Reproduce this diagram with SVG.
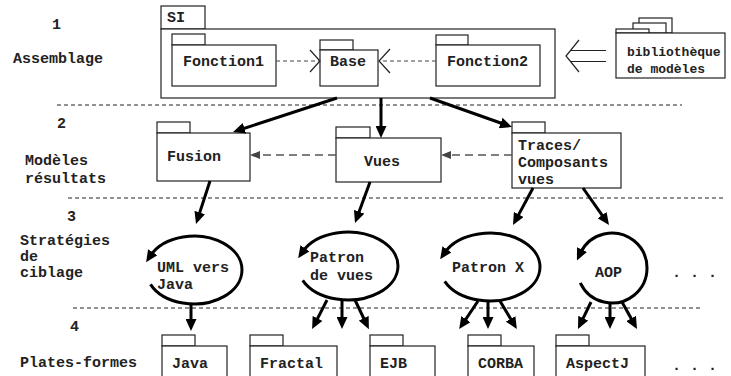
<svg xmlns="http://www.w3.org/2000/svg" width="731" height="376" viewBox="0 0 731 376">
<style>
text{font-family:"Liberation Mono","Courier New",monospace;font-weight:bold;font-size:15px;fill:#222}
.small{font-size:13px}
.pkg{fill:#fff;stroke:#222;stroke-width:1.2}
.sep{stroke:#222;stroke-width:1;stroke-dasharray:4 3;fill:none}
.dep{stroke:#444;stroke-width:1;stroke-dasharray:4 3;fill:none}
.dep2{stroke:#555;stroke-width:1.5;stroke-dasharray:8 5;fill:none}
.thin{stroke:#222;stroke-width:1.2;fill:none}
.arr{stroke:#000;stroke-width:3;fill:none;marker-end:url(#ah)}
.loop{stroke:#000;stroke-width:3;fill:none;marker-end:url(#lh)}
</style>
<defs>
<marker id="ah" markerUnits="userSpaceOnUse" markerWidth="13" markerHeight="11" viewBox="0 0 13 11" refX="3" refY="5.5" orient="auto"><path d="M0,0 L12,5.5 L0,11 z" fill="#000"/></marker>
<marker id="lh" markerUnits="userSpaceOnUse" markerWidth="12" markerHeight="11" viewBox="0 0 12 11" refX="4" refY="5.5" orient="auto"><path d="M0,0 L12,5.5 L0,11 z" fill="#000"/></marker>
</defs>
<rect width="731" height="376" fill="#fff"/>

<g id="separators">
<line class="sep" x1="57" y1="105" x2="682" y2="105"/>
<line class="sep" x1="68" y1="198" x2="725" y2="198"/>
<line class="sep" x1="73" y1="308" x2="703" y2="308"/>
</g>

<g id="labels">
<text x="52" y="29">1</text>
<text x="13" y="63">Assemblage</text>
<text x="57" y="128">2</text>
<text x="25" y="165">Modèles</text>
<text x="25" y="183">résultats</text>
<text x="67" y="221">3</text>
<text x="20" y="245">Stratégies</text>
<text x="20" y="261">de</text>
<text x="20" y="277">ciblage</text>
<text x="70" y="331">4</text>
<text x="20" y="367">Plates-formes</text>
</g>

<g id="SI">
<rect class="pkg" x="161" y="6" width="44" height="23"/>
<rect class="pkg" x="161" y="29" width="394" height="69"/>
<text x="167" y="22">SI</text>
</g>
<g id="Fonction1">
<rect class="pkg" x="172" y="34" width="33" height="11"/>
<rect class="pkg" x="172" y="45" width="104" height="41"/>
<text x="183" y="66">Fonction1</text>
</g>
<g id="Base">
<rect class="pkg" x="320" y="40" width="33" height="10"/>
<rect class="pkg" x="320" y="50" width="58" height="36"/>
<text x="330" y="66">Base</text>
</g>
<g id="Fonction2">
<rect class="pkg" x="436" y="35" width="32" height="10"/>
<rect class="pkg" x="436" y="45" width="104" height="41"/>
<text x="447" y="66">Fonction2</text>
</g>
<g id="bibliotheque">
<rect class="pkg" x="639" y="18" width="33" height="15"/>
<rect class="pkg" x="633" y="23" width="33" height="10"/>
<rect class="pkg" x="616" y="29" width="33" height="4"/>
<rect class="pkg" x="616" y="33" width="109" height="45"/>
<text class="small" x="627" y="56">bibliothèque</text>
<text class="small" x="627" y="73">de modèles</text>
</g>

<g id="Fusion">
<rect class="pkg" x="157" y="122" width="33" height="11"/>
<rect class="pkg" x="157" y="133" width="93" height="48"/>
<text x="167" y="161">Fusion</text>
</g>
<g id="Vues">
<rect class="pkg" x="336" y="127" width="34" height="11"/>
<rect class="pkg" x="336" y="138" width="105" height="44"/>
<text x="364" y="166">Vues</text>
</g>
<g id="Traces">
<rect class="pkg" x="512" y="122" width="33" height="11"/>
<rect class="pkg" x="512" y="133" width="109" height="55"/>
<text x="518" y="150">Traces/</text>
<text x="518" y="167">Composants</text>
<text x="518" y="184">vues</text>
</g>

<g id="UML">
<path class="loop" d="M150.5,284.4 A48,34 0 1 0 150.5,255.6"/>
<text x="157" y="272">UML vers</text>
<text x="157" y="289">Java</text>
</g>
<g id="PatronVues">
<path class="loop" d="M302.7,280.4 A50,34 0 1 0 302.7,251.6"/>
<text x="310" y="262">Patron</text>
<text x="310" y="280">de vues</text>
</g>
<g id="PatronX">
<path class="loop" d="M444.7,281.4 A50,34 0 1 0 444.7,252.6"/>
<text x="452" y="272">Patron X</text>
</g>
<g id="AOP">
<path class="loop" d="M580.3,282.8 A35,35 0 1 0 580.3,253.2"/>
<text x="595" y="277">AOP</text>
</g>
<g id="dots3"><text x="672" y="277">. . .</text></g>

<g id="Java">
<rect class="pkg" x="162" y="335" width="33" height="11"/>
<rect class="pkg" x="162" y="346" width="65" height="40"/>
<text x="172" y="368">Java</text>
</g>
<g id="Fractal">
<rect class="pkg" x="250" y="335" width="33" height="11"/>
<rect class="pkg" x="250" y="346" width="87" height="40"/>
<text x="260" y="368">Fractal</text>
</g>
<g id="EJB">
<rect class="pkg" x="370" y="335" width="33" height="11"/>
<rect class="pkg" x="370" y="346" width="65" height="40"/>
<text x="380" y="368">EJB</text>
</g>
<g id="CORBA">
<rect class="pkg" x="468" y="335" width="33" height="11"/>
<rect class="pkg" x="468" y="346" width="66" height="40"/>
<text x="478" y="368">CORBA</text>
</g>
<g id="AspectJ">
<rect class="pkg" x="556" y="335" width="33" height="11"/>
<rect class="pkg" x="556" y="346" width="89" height="40"/>
<text x="566" y="368">AspectJ</text>
</g>
<g id="dots4"><text x="672" y="370">. . .</text></g>

<g id="connectors">
<line class="dep" x1="276" y1="61" x2="319" y2="61"/>
<polyline class="thin" points="310,50 320,61 310,72"/>
<line class="dep" x1="436" y1="61" x2="380" y2="61"/>
<polyline class="thin" points="390,49 379,61 390,73"/>
<polyline class="thin" points="579,40 566,56 579,72"/>
<line class="thin" x1="571" y1="50.5" x2="606" y2="50.5"/>
<line class="thin" x1="571" y1="61.5" x2="606" y2="61.5"/>

<line class="dep2" x1="336" y1="155" x2="260" y2="155"/>
<polygon points="250,155 260,151 260,159" fill="#444"/>
<line class="dep2" x1="512" y1="155" x2="451" y2="155"/>
<polygon points="441,155 451,151 451,159" fill="#444"/>

<line class="arr" x1="337" y1="98" x2="241.6" y2="129.2"/>
<line class="arr" x1="381" y1="98" x2="381" y2="129"/>
<line class="arr" x1="430" y1="98" x2="503.5" y2="124"/>

<line class="arr" x1="210" y1="181" x2="198.8" y2="215.4"/>
<line class="arr" x1="370" y1="182" x2="358.1" y2="214.6"/>
<line class="arr" x1="533" y1="188" x2="517.3" y2="217.1"/>
<line class="arr" x1="583" y1="188" x2="603.8" y2="217.6"/>

<line class="arr" x1="191" y1="305" x2="191" y2="322"/>
<line class="arr" x1="327" y1="300" x2="316.2" y2="321.1"/>
<line class="arr" x1="342" y1="301" x2="342" y2="320"/>
<line class="arr" x1="355" y1="300" x2="365" y2="321"/>
<line class="arr" x1="478" y1="301" x2="464.2" y2="321.6"/>
<line class="arr" x1="488" y1="301" x2="488" y2="320"/>
<line class="arr" x1="500" y1="301" x2="512.2" y2="321.4"/>
<line class="arr" x1="591" y1="302" x2="581.9" y2="320.9"/>
<line class="arr" x1="610" y1="303" x2="610" y2="320"/>
<line class="arr" x1="622" y1="302" x2="632.6" y2="321.1"/>
</g>
</svg>
